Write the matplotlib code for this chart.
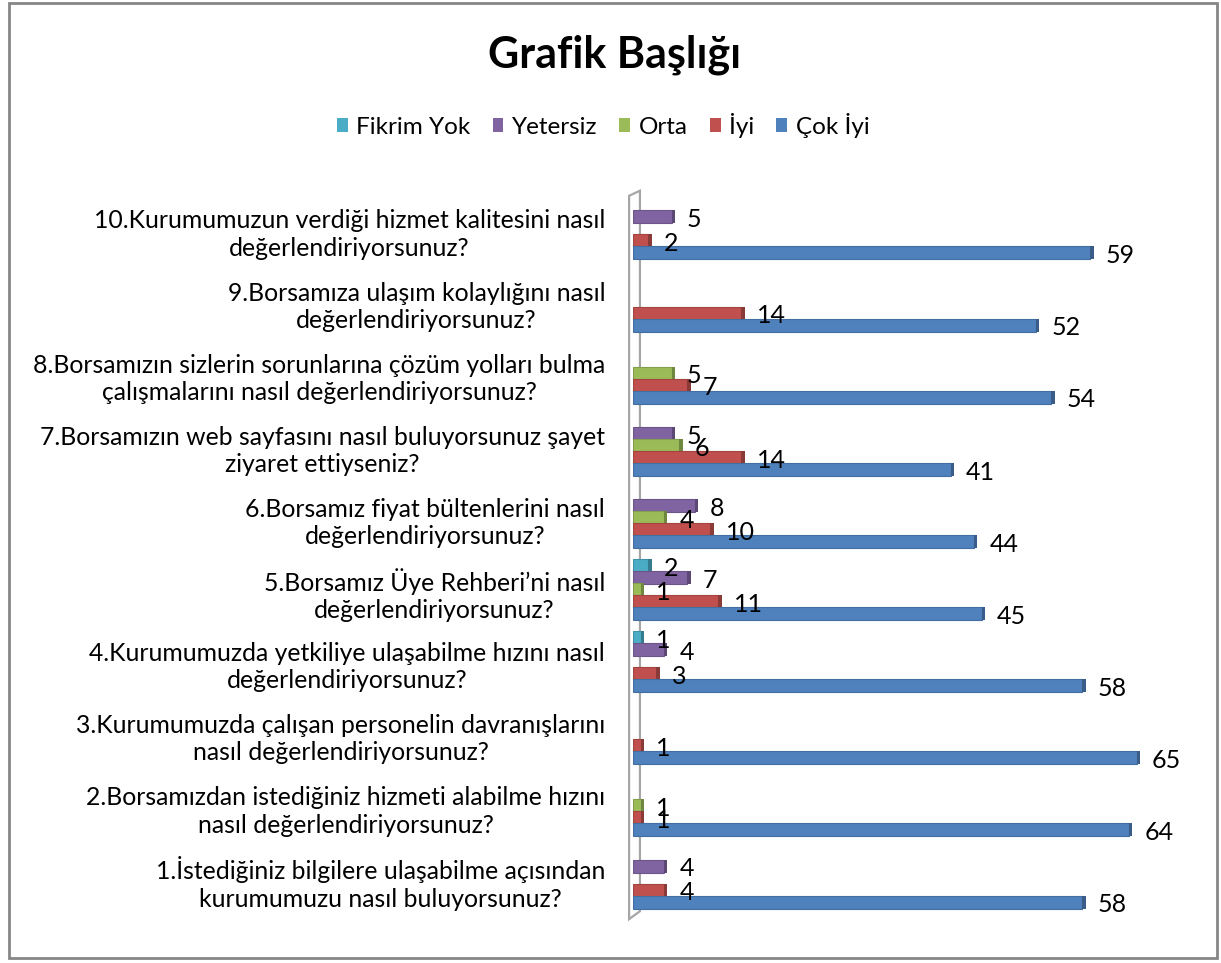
import matplotlib
matplotlib.use('Agg')
import matplotlib.pyplot as plt
from matplotlib.patches import Patch, Rectangle, Polygon
from matplotlib.colors import to_rgb
import numpy as np

plt.rcParams['font.family'] = ['Lato', 'DejaVu Sans']

# categories from 1 to 10 (10 is drawn on top)
questions = [
    '1.İstediğiniz bilgilere ulaşabilme açısından\nkurumumuzu nasıl buluyorsunuz?',
    '2.Borsamızdan istediğiniz hizmeti alabilme hızını\nnasıl değerlendiriyorsunuz?',
    '3.Kurumumuzda çalışan personelin davranışlarını\nnasıl değerlendiriyorsunuz?',
    '4.Kurumumuzda yetkiliye ulaşabilme hızını nasıl\ndeğerlendiriyorsunuz?',
    '5.Borsamız Üye Rehberi’ni nasıl\ndeğerlendiriyorsunuz?',
    '6.Borsamız fiyat bültenlerini nasıl\ndeğerlendiriyorsunuz?',
    '7.Borsamızın web sayfasını nasıl buluyorsunuz şayet\nziyaret ettiyseniz?',
    '8.Borsamızın sizlerin sorunlarına çözüm yolları bulma\nçalışmalarını nasıl değerlendiriyorsunuz?',
    '9.Borsamıza ulaşım kolaylığını nasıl\ndeğerlendiriyorsunuz?',
    '10.Kurumumuzun verdiği hizmet kalitesini nasıl\ndeğerlendiriyorsunuz?',
]

fikrim_yok = [0, 0, 0, 1, 2, 0, 0, 0, 0, 0]
yetersiz = [4, 0, 0, 4, 7, 8, 5, 0, 0, 5]
orta = [0, 1, 0, 0, 1, 4, 6, 5, 0, 0]
iyi = [4, 1, 1, 3, 11, 10, 14, 7, 14, 2]
cok_iyi = [58, 64, 65, 58, 45, 44, 41, 54, 52, 59]

series_names = ['Fikrim Yok', 'Yetersiz', 'Orta', 'İyi', 'Çok İyi']
series_vals = [fikrim_yok, yetersiz, orta, iyi, cok_iyi]
colors = ['#4BACC6', '#8064A2', '#9BBB59', '#C0504D', '#4F81BD']


def darker(c, f=0.72):
    r, g, b = to_rgb(c)
    return (r * f, g * f, b * f)


fig = plt.figure(figsize=(12.21, 9.63), dpi=100)
ax = fig.add_axes([0.5184, 0.0433, 0.457, 0.7609])
ax.set_xlim(0, 72)
ax.set_ylim(9.6, -0.56)
ax.axis('off')

# 3d wall behind the bars
wall = Polygon([(-0.5, -0.46), (0.9, -0.53), (0.9, 9.46), (-0.5, 9.57)],
               closed=True, facecolor='white', edgecolor='#A6A6A6', lw=1.6,
               zorder=1, clip_on=False)
ax.add_patch(wall)

n = len(questions)
pos = np.array([n - 1 - i for i in range(n)], dtype=float)
step = 0.1665
bh = 0.18

for j, (vals, col) in enumerate(zip(series_vals, colors)):
    y = pos + (j - 2) * step
    vals = np.array(vals)
    mask = vals > 0
    ax.barh(y[mask], vals[mask], height=bh, color=col,
            edgecolor=darker(col, 0.85), linewidth=0.8, zorder=2 + j)
    # darker end cap for the 3d look
    ax.barh(y[mask], 0.45, left=vals[mask], height=bh, color=darker(col),
            linewidth=0, zorder=2 + j)
    for yy, v in zip(y[mask], vals[mask]):
        ax.annotate(str(v), xy=(v, yy), xytext=(11, -2),
                    textcoords='offset points', ha='left', va='center',
                    fontsize=18, color='black', zorder=20)

for p, q in zip(pos, questions):
    ax.annotate(q, xy=(0, p), xycoords=('axes fraction', 'data'),
                xytext=(-20, -4), textcoords='offset points',
                ha='right', va='center', multialignment='center',
                fontsize=17.8, linespacing=1.22)

fig.text(0.503, 0.943, 'Grafik Başlığı', ha='center', va='center',
         fontsize=31, fontweight='bold')

handles = [Patch(facecolor=c, edgecolor='none') for c in colors]
fig.legend(handles, series_names, loc='center', bbox_to_anchor=(0.494, 0.870),
           ncol=5, frameon=False, fontsize=17.5, handlelength=0.45,
           handleheight=0.45, handletextpad=0.35, columnspacing=0.9)

fig.add_artist(Rectangle((9 / 1221, 5 / 963), 1208 / 1221, 955 / 963,
                         transform=fig.transFigure, fill=False,
                         edgecolor='#868686', lw=2))

fig.savefig('out.png', dpi=100)
